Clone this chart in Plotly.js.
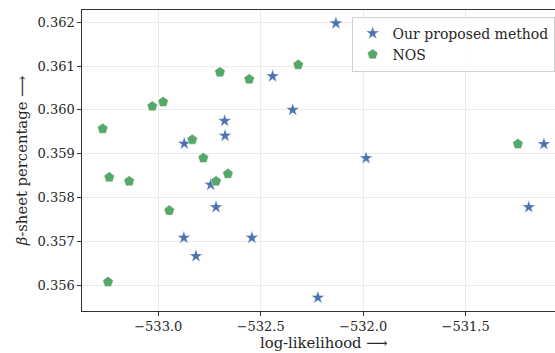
<!DOCTYPE html>
<html>
<head>
<meta charset="utf-8">
<script src="https://cdn.plot.ly/plotly-3.0.1.min.js"></script>
<style>html,body{margin:0;padding:0;background:#fff;}#chart{width:555px;height:353px;}</style>
</head>
<body>
<div id="chart"></div>
<script>
const oursX = [-532.133, -532.442, -532.344, -532.676, -532.674, -532.873, -531.986, -531.118, -532.744, -532.718, -532.875, -532.816, -532.543, -532.221, -531.192];
const oursY = [0.36198, 0.36077, 0.36000, 0.35975, 0.35941, 0.35923, 0.35890, 0.35922, 0.35829, 0.35778, 0.35708, 0.35666, 0.35708, 0.35571, 0.35778];
const nosX = [-533.271, -533.029, -532.976, -532.699, -532.556, -532.317, -532.834, -532.780, -531.245, -533.239, -533.142, -532.718, -532.660, -532.946, -533.245];
const nosY = [0.35957, 0.36008, 0.36018, 0.36086, 0.36070, 0.36103, 0.35932, 0.35890, 0.35922, 0.35846, 0.35837, 0.35837, 0.35854, 0.35770, 0.35607];
const xTickVals = [-533.0, -532.5, -532.0, -531.5];
const xTickText = ['\u2212533.0', '\u2212532.5', '\u2212532.0', '\u2212531.5'];
const yTickVals = [0.356, 0.357, 0.358, 0.359, 0.360, 0.361, 0.362];
const yTickText = ['0.356', '0.357', '0.358', '0.359', '0.360', '0.361', '0.362'];
const seriesNames = ['Our proposed method', 'NOS'];

const font = {family: 'DejaVu Serif, serif', size: 13, color: '#262626'};
const titleFont = {family: 'DejaVu Serif, serif', size: 14.8, color: '#262626'};
const traces = [
  {x: oursX, y: oursY, name: seriesNames[0], mode: 'markers', type: 'scatter',
   marker: {symbol: 'star', size: 10, color: '#4C72B0', line: {color: '#ffffff', width: 0.4}}},
  {x: nosX, y: nosY, name: seriesNames[1], mode: 'markers', type: 'scatter',
   marker: {symbol: 'pentagon', size: 11, color: '#55A868', line: {color: '#ffffff', width: 0.4}}}
];
const layout = {
  width: 555, height: 353,
  margin: {l: 82, r: 0, t: 10, b: 42},
  paper_bgcolor: '#ffffff', plot_bgcolor: '#ffffff',
  font: font,
  showlegend: true,
  legend: {x: 0.570, y: 0.978, xanchor: 'left', yanchor: 'top',
           bgcolor: 'rgba(255,255,255,0.85)', bordercolor: '#d0d0d0', borderwidth: 1,
           font: {family: 'DejaVu Serif, serif', size: 14, color: '#262626'}, tracegroupgap: 0},
  xaxis: {range: [-533.372, -531.064], tickvals: xTickVals, ticktext: xTickText,
          showgrid: true, gridcolor: '#e6e6e6', gridwidth: 0.8, zeroline: false,
          showline: true, linecolor: '#333333', linewidth: 1.1, mirror: true,
          ticks: 'outside', ticklen: 3.5, tickwidth: 1, tickcolor: '#333333',
          tickfont: font},
  yaxis: {range: [0.355406, 0.362283], tickvals: yTickVals, ticktext: yTickText,
          showgrid: true, gridcolor: '#e6e6e6', gridwidth: 0.8, zeroline: false,
          showline: true, linecolor: '#333333', linewidth: 1.1, mirror: false,
          ticks: 'outside', ticklen: 3.5, tickwidth: 1, tickcolor: '#333333',
          tickfont: font,
          title: {text: '<i>\u03B2</i>-sheet percentage \u27F6', font: titleFont, standoff: 6}},
  annotations: [
    {text: 'log-likelihood \u27F6', xref: 'paper', yref: 'paper', x: 0.5116, y: -0.106,
     xanchor: 'center', yanchor: 'middle', showarrow: false, font: titleFont}
  ]
};
Plotly.newPlot('chart', traces, layout, {displayModeBar: false, staticPlot: true});
</script>
</body>
</html>
